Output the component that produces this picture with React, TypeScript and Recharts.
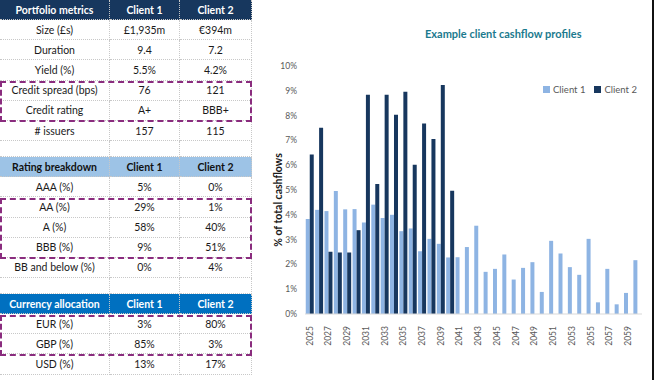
import React from 'react';
import { BarChart, Bar, XAxis, YAxis } from 'recharts';

const years = [
  2025, 2026, 2027, 2028, 2029, 2030, 2031, 2032, 2033, 2034, 2035, 2036,
  2037, 2038, 2039, 2040, 2041, 2042, 2043, 2044, 2045, 2046, 2047, 2048,
  2049, 2050, 2051, 2052, 2053, 2054, 2055, 2056, 2057, 2058, 2059, 2060,
];
const client1 = [
  3.83, 4.2, 4.15, 4.96, 4.22, 4.23, 3.69, 4.41, 3.87, 4.0, 3.34, 3.45,
  2.53, 3.03, 2.83, 2.28, 2.29, 2.7, 3.56, 1.7, 1.82, 2.4, 1.39, 1.86,
  2.09, 0.89, 2.95, 2.44, 1.89, 1.58, 3.03, 0.47, 1.82, 0.39, 0.85, 2.17,
];
const client2 = [
  6.43, 7.51, 2.51, 2.48, 2.48, 3.38, 8.84, 5.24, 8.84, 8.03, 8.96, 6.02,
  7.68, 7.06, 9.23, 4.97, 0, 0, 0, 0, 0, 0, 0, 0,
  0, 0, 0, 0, 0, 0, 0, 0, 0, 0, 0, 0,
];
const yTicks = [0, 1, 2, 3, 4, 5, 6, 7, 8, 9, 10];
const seriesNames = ['Client 1', 'Client 2'];
const seriesColors = ['#8eb4e3', '#17375e'];

const metricsRows = [
  ['Size (£s)', '£1,935m', '€394m'],
  ['Duration', '9.4', '7.2'],
  ['Yield (%)', '5.5%', '4.2%'],
  ['Credit spread (bps)', '76', '121'],
  ['Credit rating', 'A+', 'BBB+'],
  ['# issuers', '157', '115'],
];
const ratingRows = [
  ['AAA (%)', '5%', '0%'],
  ['AA (%)', '29%', '1%'],
  ['A (%)', '58%', '40%'],
  ['BBB (%)', '9%', '51%'],
  ['BB and below (%)', '0%', '4%'],
];
const currencyRows = [
  ['EUR (%)', '3%', '80%'],
  ['GBP (%)', '85%', '3%'],
  ['USD (%)', '13%', '17%'],
];

const data = years.map((y, i) => ({ year: String(y), c1: client1[i], c2: client2[i] }));

const colW = [110, 70, 72];
const ROW_H = 20.2;
const font = 'Lato, "Open Sans", sans-serif';

const Row = ({ cells, h, bg, color, bold }: any) => (
  <div style={{ display: 'flex', height: h, background: bg || '#fff' }}>
    {cells.map((c: string, i: number) => (
      <div
        key={i}
        style={{
          width: colW[i],
          boxSizing: 'border-box',
          borderRight: '1px dotted #c8c8c8',
          borderBottom: '1px dotted #c8c8c8',
          display: 'flex',
          alignItems: 'center',
          justifyContent: 'center',
          color: color || '#1a1a1a',
          fontWeight: bold ? 700 : 400,
          fontSize: 10.5,
          whiteSpace: 'nowrap',
        }}
      >
        {c}
      </div>
    ))}
  </div>
);

const Section = ({ title, rows, bg, color }: any) => (
  <div>
    <Row cells={[title, 'Client 1', 'Client 2']} h={20} bg={bg} color={color} bold />
    {rows.map((r: string[], i: number) => (
      <Row key={i} cells={r} h={ROW_H} />
    ))}
  </div>
);

const Highlight = ({ top, height }: any) => (
  <div
    style={{
      position: 'absolute',
      left: 0,
      top,
      width: 252,
      height,
      boxSizing: 'border-box',
      border: '2px dashed #8a2c7e',
    }}
  />
);

const XTick = ({ x, y, payload }: any) => (
  <text
    x={x + 3}
    y={y + 4}
    transform={`rotate(-90 ${x + 3} ${y + 4})`}
    textAnchor="end"
    fontSize={8.5}
    fill="#595959"
    fontFamily={font}
  >
    {payload.value}
  </text>
);

const App = () => {
  return (
    <div style={{ position: 'relative', width: 655, height: 380, background: '#fff', fontFamily: font }}>
      <style>{'body{margin:0}'}</style>
      <div style={{ position: 'absolute', left: 0, top: 0, width: 252 }}>
        <Section title="Portfolio metrics" rows={metricsRows} bg="#17375e" color="#fff" />
        <Row cells={['', '', '']} h={16} />
        <Section title="Rating breakdown" rows={ratingRows} bg="#9dc3e6" color="#111" />
        <Row cells={['', '', '']} h={16} />
        <Section title="Currency allocation" rows={currencyRows} bg="#0070c0" color="#fff" />
      </div>
      <Highlight top={81} height={41} />
      <Highlight top={198} height={61} />
      <Highlight top={315} height={41} />

      <div
        style={{
          position: 'absolute',
          left: 425,
          top: 27,
          width: 152,
          textAlign: 'center',
          fontSize: 11,
          fontWeight: 700,
          color: '#1b7a8e',
          whiteSpace: 'nowrap',
        }}
      >
        Example client cashflow profiles
      </div>

      <div
        style={{
          position: 'absolute',
          left: 543,
          top: 84,
          display: 'flex',
          gap: 9,
          fontSize: 9.5,
          color: '#595959',
          whiteSpace: 'nowrap',
        }}
      >
        {seriesNames.map((n, i) => (
          <div key={n} style={{ display: 'flex', alignItems: 'center', gap: 3 }}>
            <span style={{ width: 7, height: 7, background: seriesColors[i], display: 'inline-block' }} />
            <span>{n}</span>
          </div>
        ))}
      </div>

      <div style={{ position: 'absolute', left: 252, top: 0 }}>
        <BarChart
          width={400}
          height={380}
          data={data}
          margin={{ top: 66, right: 10, bottom: 20, left: 19 }}
          barGap={0}
          barCategoryGap="8%"
        >
          <XAxis
            dataKey="year"
            interval={1}
            tickLine={false}
            axisLine={{ stroke: '#d9d9d9' }}
            tick={<XTick />}
            height={46}
          />
          <YAxis
            domain={[0, 10]}
            ticks={yTicks}
            tickFormatter={(v: number) => `${v}%`}
            tickLine={false}
            axisLine={false}
            width={34}
            tick={{ fontSize: 8.5, fill: '#595959', fontFamily: font }}
            label={{
              value: '% of total cashflows',
              angle: -90,
              position: 'insideLeft',
              offset: 11,
              dx: -4,
              dy: 10,
              style: { fontSize: 10.5, fontWeight: 700, fill: '#1a1a1a', textAnchor: 'middle', fontFamily: font },
            }}
          />
          <Bar dataKey="c1" name={seriesNames[0]} fill={seriesColors[0]} isAnimationActive={false} />
          <Bar dataKey="c2" name={seriesNames[1]} fill={seriesColors[1]} isAnimationActive={false} />
        </BarChart>
      </div>

      <div style={{ position: 'absolute', left: 652, top: 0, width: 2, height: 380, background: '#111' }} />
    </div>
  );
};

export default App;
